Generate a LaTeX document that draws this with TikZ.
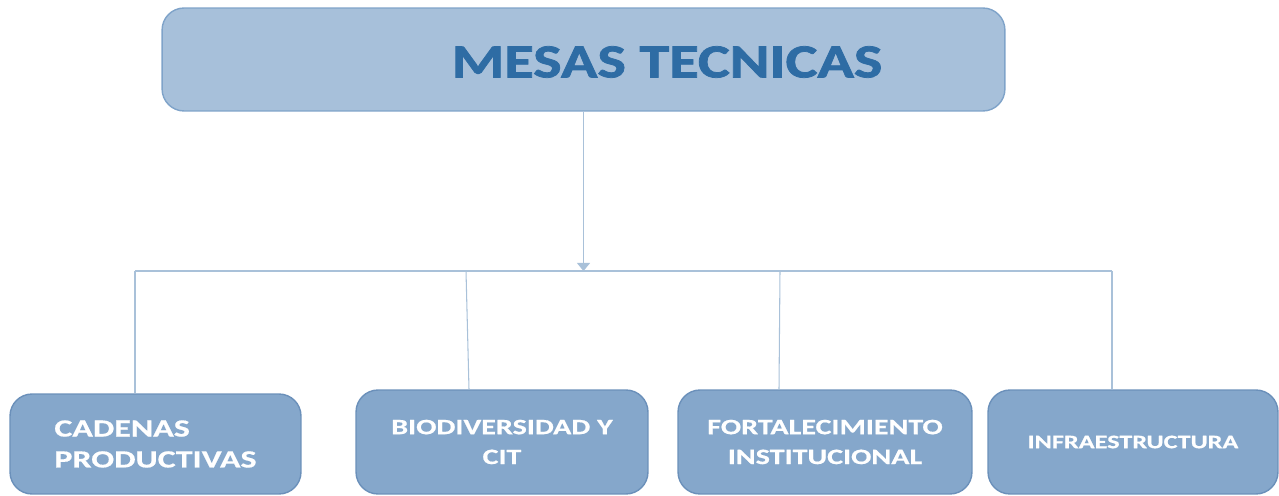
\documentclass[tikz,border=0pt]{standalone}
\usepackage{fontspec}
\setmainfont{Carlito}
\newfontfamily\titlefont[FakeStretch=1.27, BoldFeatures={FakeBold=1.6}]{Carlito}
\newfontfamily\mesafont[FakeStretch=1.37, BoldFeatures={FakeBold=0.6}]{Carlito}
\usetikzlibrary{calc,arrows.meta}

\definecolor{topfill}{HTML}{A7C0DA}
\definecolor{topline}{HTML}{7FA3C9}
\definecolor{toptext}{HTML}{2E6CA4}
\definecolor{mesafill}{HTML}{85A7CB}
\definecolor{mesaline}{HTML}{6B90BA}
\definecolor{wire}{HTML}{A9C1D9}

\begin{document}
\begin{tikzpicture}[x=0.02cm, y=-0.02cm,
  mesa/.style={draw=mesaline, fill=mesafill, line width=0.8pt, rounded corners=0.44cm, inner sep=0pt, text=white, align=center},
  wire/.style={draw=wire, line width=0.6pt}]
\useasboundingbox (0,0) rectangle (1279,496);

\node (top) at (583.5,59.5) [draw=topline, fill=topfill, line width=0.8pt, rounded corners=0.44cm, minimum width=16.86cm, minimum height=2.06cm] {};
\node (title) at (667,62) [text=toptext, font=\titlefont\fontsize{27}{30}\bfseries\selectfont] {MESAS TECNICAS};

\node (m1) at (155.5,444) [mesa, minimum width=5.82cm, minimum height=2cm, align=left, font=\mesafont\fontsize{14.1}{17.6}\bfseries\selectfont] {CADENAS\\PRODUCTIVAS};
\node (m2) at (502,442) [mesa, minimum width=5.84cm, minimum height=2.08cm, font=\mesafont\fontsize{12.5}{17}\bfseries\selectfont] {BIODIVERSIDAD Y\\CIT};
\node (m3) at (825,442) [mesa, minimum width=5.88cm, minimum height=2.08cm, font=\mesafont\fontsize{12.5}{17}\bfseries\selectfont] {FORTALECIMIENTO\\INSTITUCIONAL};
\node (m4) at (1133,442) [mesa, minimum width=5.8cm, minimum height=2.08cm, font=\mesafont\fontsize{10.9}{13}\bfseries\selectfont] {INFRAESTRUCTURA};

\coordinate (j0) at (583.5,271);
\foreach \i/\x in {1/135, 2/466, 3/780, 4/1112}
  \coordinate (j\i) at (\x,271);

\draw[wire, -{Triangle[length=0.16cm, width=0.26cm]}] (top.south) -- (j0);
\draw[wire] (j1) -- (j4);
\foreach \i/\s in {1/0, 2/3, 3/-1, 4/0}
  \draw[wire] (j\i) -- ([xshift=\s*0.02cm]j\i |- m\i.north);
\end{tikzpicture}
\end{document}
